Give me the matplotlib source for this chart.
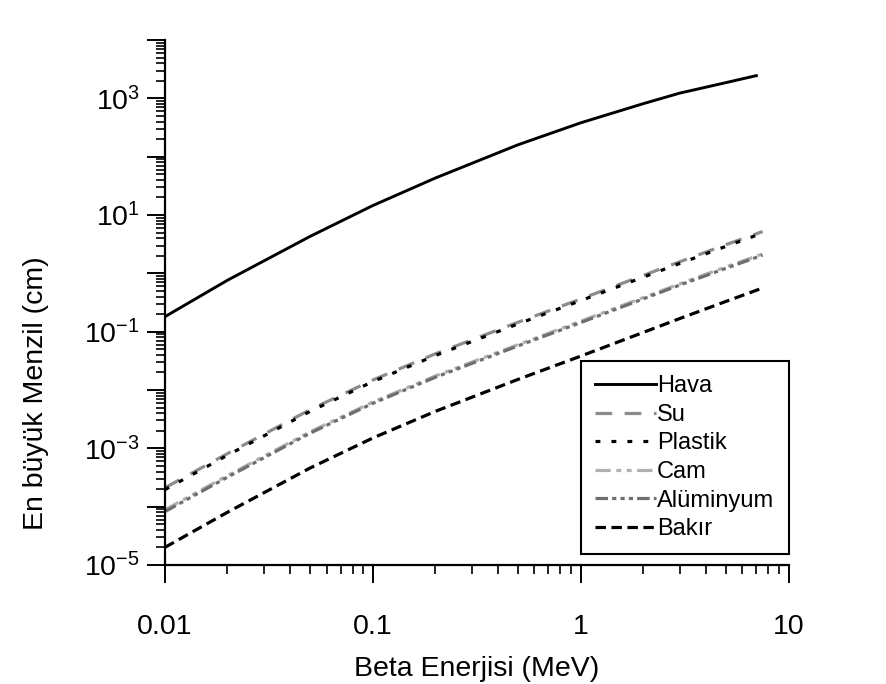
import math
import matplotlib
matplotlib.use("Agg")
import matplotlib.pyplot as plt
from matplotlib.ticker import FixedLocator, FuncFormatter, NullFormatter

plt.rcParams["font.family"] = ["Liberation Sans", "DejaVu Sans"]
plt.rcParams["lines.scale_dashes"] = False

# energies in MeV
energy = [0.01, 0.02, 0.05, 0.1, 0.2, 0.5, 1, 2, 3, 5, 7.5]
energy_hava = [0.01, 0.02, 0.05, 0.1, 0.2, 0.5, 1, 2, 3, 5, 7]

# maximum range in cm
hava = [0.18, 0.76, 4.3, 14.5, 43, 160, 380, 810, 1230, 1860, 2450]
su = [2.1e-4, 8.1e-4, 4.6e-3, 0.0148, 0.0417, 0.145, 0.363, 0.92, 1.58, 3.1, 5.2]
plastik = [1.95e-4, 7.6e-4, 4.3e-3, 0.0139, 0.039, 0.136, 0.34, 0.86, 1.48, 2.9, 4.9]
cam = [8.8e-5, 3.4e-4, 1.92e-3, 6.2e-3, 0.0174, 0.060, 0.151, 0.384, 0.66, 1.29, 2.15]
aluminyum = [8.2e-5, 3.2e-4, 1.82e-3, 5.9e-3, 0.0165, 0.057, 0.143, 0.365, 0.63, 1.22, 2.05]
bakir = [2.0e-5, 8.0e-5, 4.6e-4, 1.5e-3, 4.3e-3, 0.0152, 0.038, 0.097, 0.168, 0.33, 0.56]

labels = ["Hava", "Su", "Plastik", "Cam", "Alüminyum", "Bakır"]
x_ticks = [0.01, 0.1, 1, 10]


def y_fmt(v, pos):
    e = round(math.log10(v))
    # only odd powers carry a label
    return r"$\mathdefault{10^{%d}}$" % e if e % 2 else ""


fig = plt.figure(figsize=(8.86, 6.84), dpi=100)
ax = fig.add_axes([0.186, 0.174, 0.704, 0.7675])

ax.plot(energy_hava, hava, color="black", lw=2.1, ls="-", label=labels[0])
ax.plot(energy, su, color="#8c8c8c", lw=2.3, ls=(0, (12, 9)), label=labels[1])
ax.plot(energy, plastik, color="black", lw=2.3, ls=(0, (3.5, 8)), label=labels[2])
ax.plot(energy, cam, color="#b0b0b0", lw=2.3,
        ls=(0, (11, 4, 3.5, 4, 3.5, 4)), label=labels[3])
ax.plot(energy, aluminyum, color="#6e6e6e", lw=2.3,
        ls=(0, (9, 3, 3, 3, 3, 3, 3, 3)), label=labels[4])
ax.plot(energy, bakir, color="black", lw=2.3, ls=(0, (7.5, 4)), label=labels[5])

ax.set_xscale("log")
ax.set_yscale("log")
ax.set_xlim(0.01, 10)
ax.set_ylim(1e-5, 1e4)

ax.spines["top"].set_visible(False)
ax.spines["right"].set_visible(False)
for s in ("left", "bottom"):
    ax.spines[s].set_linewidth(1.6)

ax.xaxis.set_major_locator(FixedLocator(x_ticks))
ax.xaxis.set_major_formatter(FuncFormatter(lambda v, p: "%g" % v))
ax.xaxis.set_minor_locator(FixedLocator(
    [m * 10.0 ** e for e in range(-2, 1) for m in range(2, 10)]))
ax.xaxis.set_minor_formatter(NullFormatter())

ax.yaxis.set_major_locator(FixedLocator([10.0 ** e for e in range(-5, 5)]))
ax.yaxis.set_major_formatter(FuncFormatter(y_fmt))
ax.yaxis.set_minor_locator(FixedLocator(
    [m * 10.0 ** e for e in range(-5, 4) for m in range(2, 10)]))
ax.yaxis.set_minor_formatter(NullFormatter())

ax.tick_params(which="major", direction="out", length=13, width=1.4,
               labelsize=20.5)
ax.tick_params(which="minor", direction="out", length=6.5, width=1.2)
ax.tick_params(axis="x", which="major", pad=22)
ax.tick_params(axis="y", which="major", pad=5)

ax.set_xlabel("Beta Enerjisi (MeV)", fontsize=20.5, labelpad=12)
ax.set_ylabel("En büyük Menzil (cm)", fontsize=20.5)
ax.yaxis.set_label_coords(-0.185, 0.328)

leg = ax.legend(loc="lower right", bbox_to_anchor=(1.0, 0.02),
                borderaxespad=0, fontsize=17, frameon=True, fancybox=False,
                framealpha=1, edgecolor="black", handlelength=2.6,
                handletextpad=0.05, labelspacing=0.28, borderpad=0.6)
leg.get_frame().set_linewidth(1.5)

fig.savefig("out.png", dpi=100)
plt.close(fig)
